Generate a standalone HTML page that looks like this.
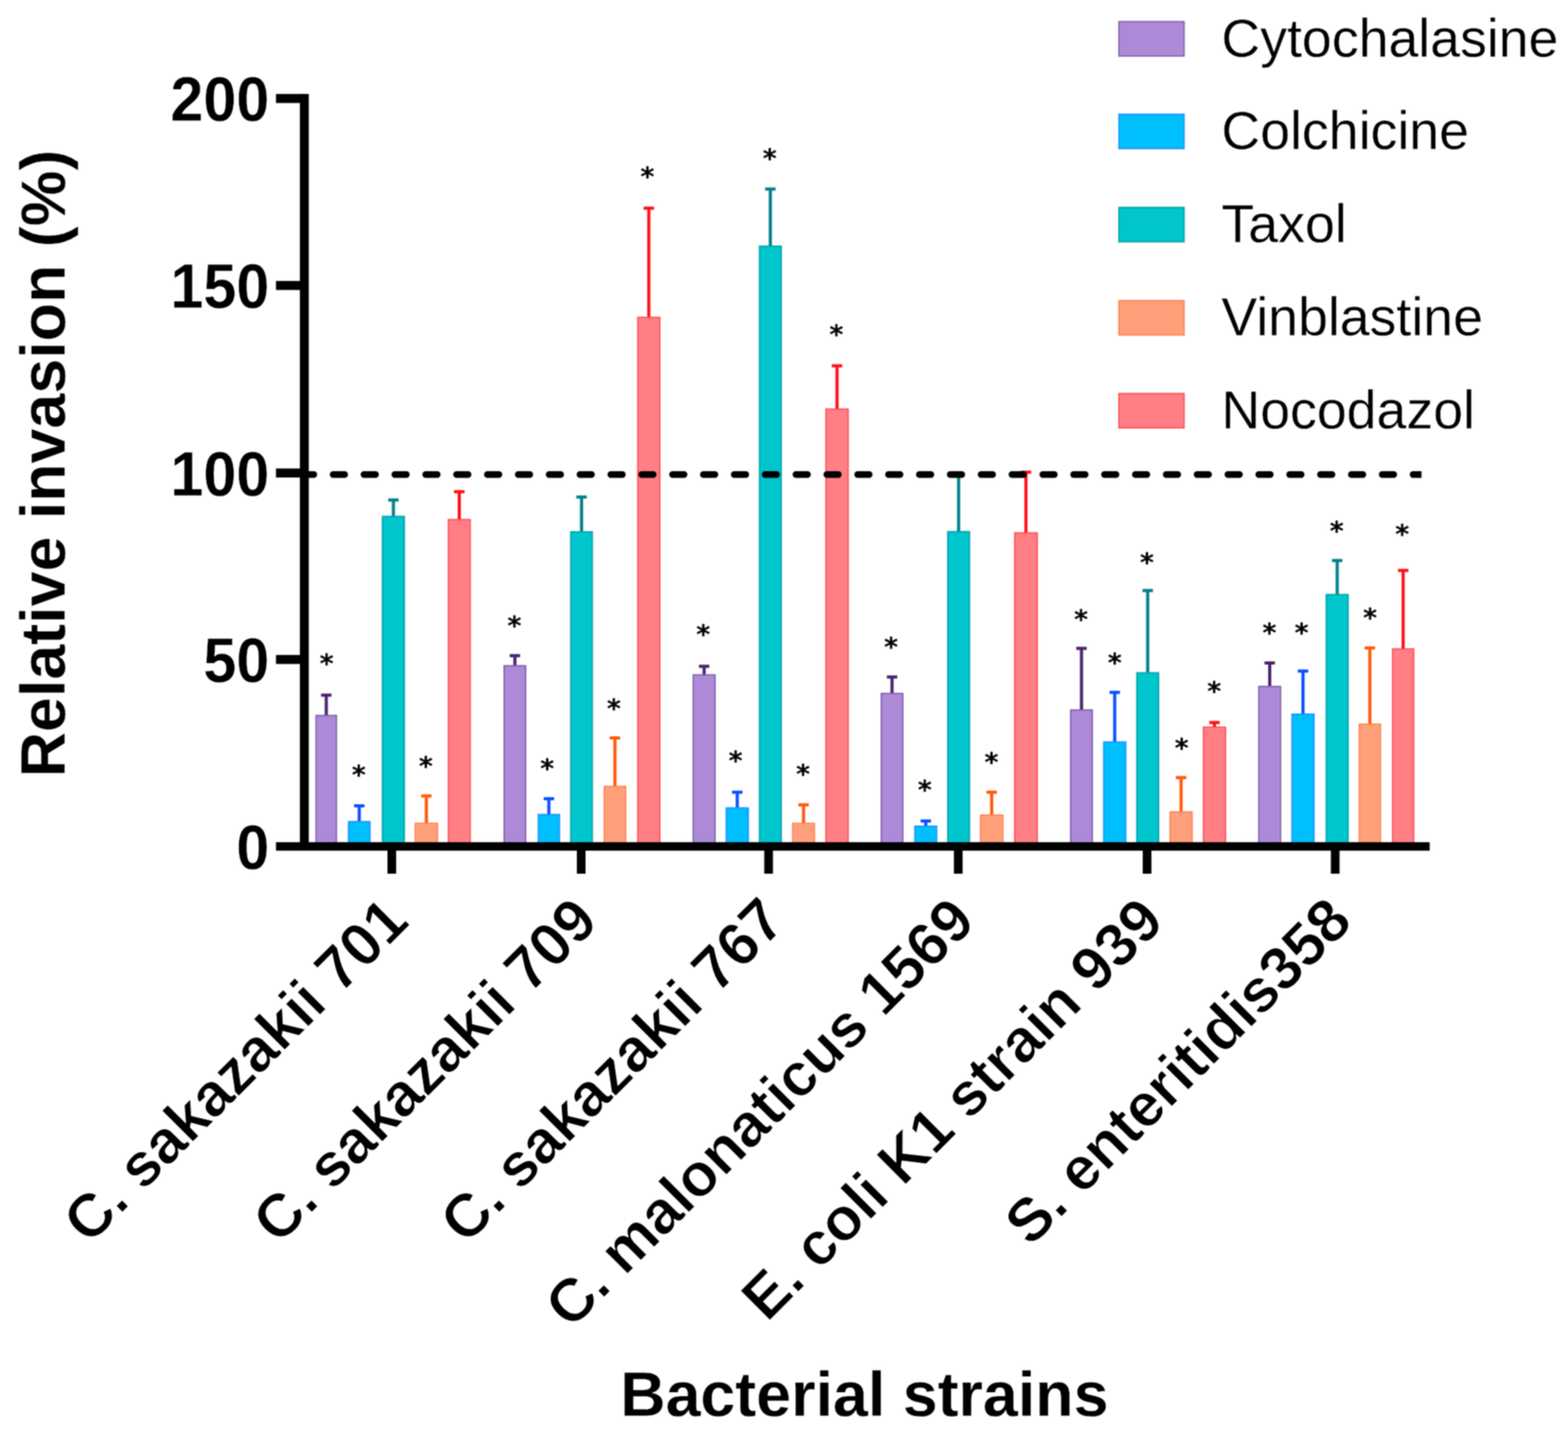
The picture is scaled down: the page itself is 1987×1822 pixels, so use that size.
<!DOCTYPE html>
<html lang="en"><head><meta charset="utf-8"><title>Relative invasion of bacterial strains</title>
<style>
html,body{margin:0;padding:0;background:#fff;}
body{width:1987px;height:1822px;overflow:hidden;}
svg{display:block;}
text{font-family:"Liberation Sans",Arial,Helvetica,sans-serif;fill:#000;stroke:#fff;stroke-linejoin:round;}
.ast{font-family:"DejaVu Sans","Liberation Sans",sans-serif;font-size:33px;text-anchor:middle;stroke:#000;stroke-width:1px;}
.tk{font-size:75px;text-anchor:end;font-weight:bold;stroke-width:0.3px;}
.lab{font-size:75.8px;text-anchor:end;font-weight:bold;stroke-width:1px;letter-spacing:-0.45px;}
.tit{font-size:79.5px;text-anchor:middle;font-weight:bold;stroke-width:0.3px;letter-spacing:0px;}
.leg{font-size:68px;stroke-width:0.3px;}
</style></head><body>
<svg width="1987" height="1822" viewBox="0 0 1987 1822">
<defs><filter id="soft" x="0" y="0" width="1987" height="1822" filterUnits="userSpaceOnUse" color-interpolation-filters="sRGB"><feConvolveMatrix order="3" kernelMatrix="1 2 1 2 4 2 1 2 1" divisor="16" edgeMode="duplicate" preserveAlpha="true"/></filter></defs>
<g filter="url(#soft)">
<rect x="0" y="0" width="1987" height="1822" fill="#fff"/>
<g id="yticks">
<text class="tk" transform="translate(341.15 153.15) scale(1 1.067)">200</text>
<text class="tk" transform="translate(341.15 390.05) scale(1 1.067)">150</text>
<text class="tk" transform="translate(341.15 627.65) scale(1 1.067)">100</text>
<text class="tk" transform="translate(341.15 863.95) scale(1 1.067)">50</text>
<text class="tk" transform="translate(341.15 1100.55) scale(1 1.067)">0</text>
</g>
<g id="xlabels">
<text class="lab" transform="translate(520.7 1170.7) rotate(-45) scale(1.012 1.015)">C. sakazakii 701</text>
<text class="lab" transform="translate(760.7 1170.7) rotate(-45) scale(1.012 1.015)">C. sakazakii 709</text>
<text class="lab" transform="translate(998.2 1170.7) rotate(-45) scale(1.012 1.015)">C. sakazakii 767</text>
<text class="lab" transform="translate(1238.5 1170.7) rotate(-45) scale(1.012 1.015)">C. malonaticus 1569</text>
<text class="lab" transform="translate(1477.8 1170.7) rotate(-45) scale(1.012 1.015)">E. coli K1 strain 939</text>
<text class="lab" transform="translate(1716.2 1170.7) rotate(-45) scale(1.012 1.015)">S. enteritidis358</text>
</g>
<text class="tit" transform="translate(1095.3 1793.75) scale(1 1)">Bacterial strains</text>
<text class="tit" transform="translate(81.55 587.2) rotate(-90) scale(1 1)">Relative invasion (%)</text>
<g id="legend">
<rect x="1417.9" y="27.4" width="82.6" height="43.6" fill="#AD8AD8" stroke="#7E5CA8" stroke-width="1.6"/>
<text class="leg" transform="translate(1547.85 71.95) scale(1 1.005)">Cytochalasine</text>
<rect x="1417.9" y="144.7" width="82.6" height="43.6" fill="#00BFFF" stroke="#1E90FF" stroke-width="1.6"/>
<text class="leg" transform="translate(1547.85 189.25) scale(1 1.005)">Colchicine</text>
<rect x="1417.9" y="262.8" width="82.6" height="43.6" fill="#00C5CD" stroke="#00A0A8" stroke-width="1.6"/>
<text class="leg" transform="translate(1547.85 307.35) scale(1 1.005)">Taxol</text>
<rect x="1417.9" y="380.9" width="82.6" height="43.6" fill="#FFA07A" stroke="#FF8050" stroke-width="1.6"/>
<text class="leg" transform="translate(1547.85 425.45) scale(1 1.005)">Vinblastine</text>
<rect x="1417.9" y="498.6" width="82.6" height="43.6" fill="#FF7F84" stroke="#FF4A50" stroke-width="1.6"/>
<text class="leg" transform="translate(1547.85 543.15) scale(1 1.005)">Nocodazol</text>
</g>
<g id="bars">
<path d="M413.45 907.7 V880.7 M406.85 880.7 H420.05" stroke="#4A2370" stroke-width="4" fill="none"/>
<rect x="400.5" y="906.5" width="25.9" height="162.8" fill="#AD8AD8" stroke="#7E5CA8" stroke-width="1.6"/>
<path d="M455.25 1042.2 V1021.1 M448.65 1021.1 H461.85" stroke="#0A50FF" stroke-width="4" fill="none"/>
<rect x="441.6" y="1041" width="27.3" height="28.3" fill="#00BFFF" stroke="#1E90FF" stroke-width="1.6"/>
<path d="M498.5 655.5 V633.4 M491.9 633.4 H505.1" stroke="#00808C" stroke-width="4" fill="none"/>
<rect x="484.6" y="654.3" width="27.8" height="415" fill="#00C5CD" stroke="#00A0A8" stroke-width="1.6"/>
<path d="M540.3 1044.3 V1008.4 M533.7 1008.4 H546.9" stroke="#FF5A0A" stroke-width="4" fill="none"/>
<rect x="526.2" y="1043.1" width="28.2" height="26.2" fill="#FFA07A" stroke="#FF8050" stroke-width="1.6"/>
<path d="M582 659.5 V622.9 M575.4 622.9 H588.6" stroke="#FF1018" stroke-width="4" fill="none"/>
<rect x="568.2" y="658.3" width="27.6" height="411" fill="#FF7F84" stroke="#FF4A50" stroke-width="1.6"/>
<path d="M652.5 844.7 V830.8 M645.9 830.8 H659.1" stroke="#4A2370" stroke-width="4" fill="none"/>
<rect x="638.8" y="843.5" width="27.4" height="225.8" fill="#AD8AD8" stroke="#7E5CA8" stroke-width="1.6"/>
<path d="M695.55 1033.2 V1012 M688.95 1012 H702.15" stroke="#0A50FF" stroke-width="4" fill="none"/>
<rect x="682.1" y="1032" width="26.9" height="37.3" fill="#00BFFF" stroke="#1E90FF" stroke-width="1.6"/>
<path d="M736.95 675 V629.7 M730.35 629.7 H743.55" stroke="#00808C" stroke-width="4" fill="none"/>
<rect x="723.3" y="673.8" width="27.3" height="395.5" fill="#00C5CD" stroke="#00A0A8" stroke-width="1.6"/>
<path d="M779.3 997.6 V935.1 M772.7 935.1 H785.9" stroke="#FF5A0A" stroke-width="4" fill="none"/>
<rect x="765.7" y="996.4" width="27.2" height="72.9" fill="#FFA07A" stroke="#FF8050" stroke-width="1.6"/>
<path d="M822.2 403.3 V263.7 M815.6 263.7 H828.8" stroke="#FF1018" stroke-width="4" fill="none"/>
<rect x="808.2" y="402.1" width="28" height="667.2" fill="#FF7F84" stroke="#FF4A50" stroke-width="1.6"/>
<path d="M892.3 856.3 V844.2 M885.7 844.2 H898.9" stroke="#4A2370" stroke-width="4" fill="none"/>
<rect x="878.4" y="855.1" width="27.8" height="214.2" fill="#AD8AD8" stroke="#7E5CA8" stroke-width="1.6"/>
<path d="M934.3 1024.8 V1003.7 M927.7 1003.7 H940.9" stroke="#0A50FF" stroke-width="4" fill="none"/>
<rect x="920.3" y="1023.6" width="28" height="45.7" fill="#00BFFF" stroke="#1E90FF" stroke-width="1.6"/>
<path d="M976.2 313.1 V239.5 M969.6 239.5 H982.8" stroke="#00808C" stroke-width="4" fill="none"/>
<rect x="962.4" y="311.9" width="27.6" height="757.4" fill="#00C5CD" stroke="#00A0A8" stroke-width="1.6"/>
<path d="M1018.3 1044.4 V1019.8 M1011.7 1019.8 H1024.9" stroke="#FF5A0A" stroke-width="4" fill="none"/>
<rect x="1004.5" y="1043.2" width="27.6" height="26.1" fill="#FFA07A" stroke="#FF8050" stroke-width="1.6"/>
<path d="M1060.7 519.5 V463.5 M1054.1 463.5 H1067.3" stroke="#FF1018" stroke-width="4" fill="none"/>
<rect x="1046.6" y="518.3" width="28.2" height="551" fill="#FF7F84" stroke="#FF4A50" stroke-width="1.6"/>
<path d="M1130.4 879.8 V857.7 M1123.8 857.7 H1137" stroke="#4A2370" stroke-width="4" fill="none"/>
<rect x="1116.7" y="878.6" width="27.4" height="190.7" fill="#AD8AD8" stroke="#7E5CA8" stroke-width="1.6"/>
<path d="M1173.15 1048 V1040.3 M1166.55 1040.3 H1179.75" stroke="#0A50FF" stroke-width="4" fill="none"/>
<rect x="1159.3" y="1046.8" width="27.7" height="22.5" fill="#00BFFF" stroke="#1E90FF" stroke-width="1.6"/>
<path d="M1214.8 674.8 V600 M1208.2 600 H1221.4" stroke="#00808C" stroke-width="4" fill="none"/>
<rect x="1201" y="673.6" width="27.6" height="395.7" fill="#00C5CD" stroke="#00A0A8" stroke-width="1.6"/>
<path d="M1256.7 1033.9 V1003.7 M1250.1 1003.7 H1263.3" stroke="#FF5A0A" stroke-width="4" fill="none"/>
<rect x="1242.5" y="1032.7" width="28.4" height="36.6" fill="#FFA07A" stroke="#FF8050" stroke-width="1.6"/>
<path d="M1300.1 676.4 V598.3 M1293.5 598.3 H1306.7" stroke="#FF1018" stroke-width="4" fill="none"/>
<rect x="1285.8" y="675.2" width="28.6" height="394.1" fill="#FF7F84" stroke="#FF4A50" stroke-width="1.6"/>
<path d="M1370.5 900.7 V821.6 M1363.9 821.6 H1377.1" stroke="#4A2370" stroke-width="4" fill="none"/>
<rect x="1356.7" y="899.5" width="27.6" height="169.8" fill="#AD8AD8" stroke="#7E5CA8" stroke-width="1.6"/>
<path d="M1412.6 941.3 V877.2 M1406 877.2 H1419.2" stroke="#0A50FF" stroke-width="4" fill="none"/>
<rect x="1398.6" y="940.1" width="28" height="129.2" fill="#00BFFF" stroke="#1E90FF" stroke-width="1.6"/>
<path d="M1454.4 853.6 V748.3 M1447.8 748.3 H1461" stroke="#00808C" stroke-width="4" fill="none"/>
<rect x="1440.6" y="852.4" width="27.6" height="216.9" fill="#00C5CD" stroke="#00A0A8" stroke-width="1.6"/>
<path d="M1496.7 1029.9 V985.2 M1490.1 985.2 H1503.3" stroke="#FF5A0A" stroke-width="4" fill="none"/>
<rect x="1482.7" y="1028.7" width="28" height="40.6" fill="#FFA07A" stroke="#FF8050" stroke-width="1.6"/>
<path d="M1539 922.5 V915.5 M1532.4 915.5 H1545.6" stroke="#FF1018" stroke-width="4" fill="none"/>
<rect x="1525" y="921.3" width="28" height="148" fill="#FF7F84" stroke="#FF4A50" stroke-width="1.6"/>
<path d="M1609 870.9 V840 M1602.4 840 H1615.6" stroke="#4A2370" stroke-width="4" fill="none"/>
<rect x="1595.2" y="869.7" width="27.6" height="199.6" fill="#AD8AD8" stroke="#7E5CA8" stroke-width="1.6"/>
<path d="M1651.2 906 V850.2 M1644.6 850.2 H1657.8" stroke="#0A50FF" stroke-width="4" fill="none"/>
<rect x="1637.2" y="904.8" width="28" height="164.5" fill="#00BFFF" stroke="#1E90FF" stroke-width="1.6"/>
<path d="M1694.5 754.5 V710.2 M1687.9 710.2 H1701.1" stroke="#00808C" stroke-width="4" fill="none"/>
<rect x="1680.6" y="753.3" width="27.8" height="316" fill="#00C5CD" stroke="#00A0A8" stroke-width="1.6"/>
<path d="M1735.9 918.7 V820.9 M1729.3 820.9 H1742.5" stroke="#FF5A0A" stroke-width="4" fill="none"/>
<rect x="1722.4" y="917.5" width="27" height="151.8" fill="#FFA07A" stroke="#FF8050" stroke-width="1.6"/>
<path d="M1778.1 823.4 V722.7 M1771.5 722.7 H1784.7" stroke="#FF1018" stroke-width="4" fill="none"/>
<rect x="1764.7" y="822.2" width="26.8" height="247.1" fill="#FF7F84" stroke="#FF4A50" stroke-width="1.6"/>
</g>
<clipPath id="dc"><rect x="380" y="590" width="1421.3" height="24"/></clipPath>
<path d="M383 601.2 H1810" stroke="#000" stroke-width="8.4" stroke-dasharray="14.7 24.4" stroke-linecap="round" fill="none" clip-path="url(#dc)"/>
<g id="axes" fill="#000">
<rect x="380" y="119.1" width="11.3" height="958"/>
<rect x="349.7" y="1067.1" width="1462" height="10.7"/>
<rect x="349.7" y="119.1" width="36" height="11.4"/>
<rect x="349.7" y="356" width="36" height="11.4"/>
<rect x="349.7" y="593.6" width="36" height="11.4"/>
<rect x="349.7" y="829.9" width="36" height="11.4"/>
<rect x="491" y="1070" width="11" height="37"/>
<rect x="731" y="1070" width="11" height="37"/>
<rect x="968.5" y="1070" width="11" height="37"/>
<rect x="1208.8" y="1070" width="11" height="37"/>
<rect x="1448.1" y="1070" width="11" height="37"/>
<rect x="1686.5" y="1070" width="11" height="37"/>
</g>
<g id="stars">
<text class="ast" transform="translate(413.8 850.76) scale(1.05 0.97)">*</text>
<text class="ast" transform="translate(454.6 991.66) scale(1.05 0.97)">*</text>
<text class="ast" transform="translate(539.7 980.76) scale(1.05 0.97)">*</text>
<text class="ast" transform="translate(651.8 802.86) scale(1.05 0.97)">*</text>
<text class="ast" transform="translate(693.4 983.56) scale(1.05 0.97)">*</text>
<text class="ast" transform="translate(777.9 907.66) scale(1.05 0.97)">*</text>
<text class="ast" transform="translate(820.3 234.46) scale(1.05 0.97)">*</text>
<text class="ast" transform="translate(891.2 814.36) scale(1.05 0.97)">*</text>
<text class="ast" transform="translate(932.1 974.46) scale(1.05 0.97)">*</text>
<text class="ast" transform="translate(975.4 211.26) scale(1.05 0.97)">*</text>
<text class="ast" transform="translate(1017.7 990.56) scale(1.05 0.97)">*</text>
<text class="ast" transform="translate(1060 434.26) scale(1.05 0.97)">*</text>
<text class="ast" transform="translate(1129.2 830.06) scale(1.05 0.97)">*</text>
<text class="ast" transform="translate(1171.9 1010.66) scale(1.05 0.97)">*</text>
<text class="ast" transform="translate(1256.5 976.06) scale(1.05 0.97)">*</text>
<text class="ast" transform="translate(1369.9 795.16) scale(1.05 0.97)">*</text>
<text class="ast" transform="translate(1412.6 849.56) scale(1.05 0.97)">*</text>
<text class="ast" transform="translate(1453.4 723.06) scale(1.05 0.97)">*</text>
<text class="ast" transform="translate(1497.3 958.36) scale(1.05 0.97)">*</text>
<text class="ast" transform="translate(1538.6 886.26) scale(1.05 0.97)">*</text>
<text class="ast" transform="translate(1608.7 812.06) scale(1.05 0.97)">*</text>
<text class="ast" transform="translate(1649.4 812.06) scale(1.05 0.97)">*</text>
<text class="ast" transform="translate(1693.9 683.36) scale(1.05 0.97)">*</text>
<text class="ast" transform="translate(1736.1 793.46) scale(1.05 0.97)">*</text>
<text class="ast" transform="translate(1776.8 686.56) scale(1.05 0.97)">*</text>
</g>
</g>
</svg>
</body></html>
